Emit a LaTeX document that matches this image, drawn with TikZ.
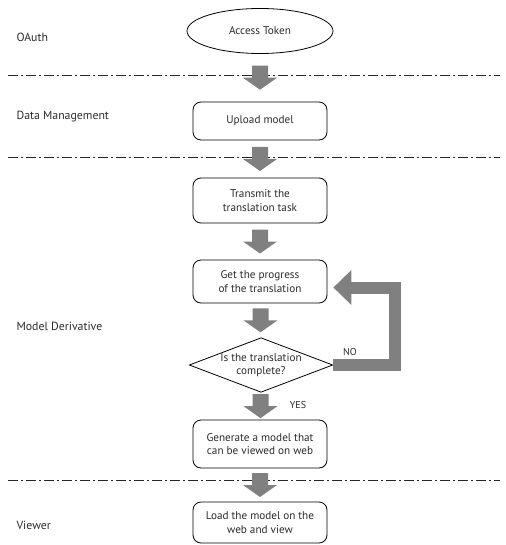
\documentclass[tikz,border=0pt]{standalone}
\usepackage{fontspec}
\setmainfont{PT Sans}
\usetikzlibrary{shapes.geometric,calc}

\definecolor{arrowgray}{HTML}{808080}
\definecolor{inkgray}{HTML}{2B2B2B}

% block arrow pointing down, centred between two nodes
\newcommand\flowarrow[2]{%
  \coordinate (fa-mid) at ($(#1.south)!0.5!(#2.north)$);
  \fill[arrowgray] ($(fa-mid)+(-8,-12)$) -- ($(fa-mid)+(-8,0)$) -- ($(fa-mid)+(-17,0)$)
    -- ($(fa-mid)+(0,12)$) -- ($(fa-mid)+(17,0)$) -- ($(fa-mid)+(8,0)$)
    -- ($(fa-mid)+(8,-12)$) -- cycle;}

\begin{document}
\begin{tikzpicture}[x=1pt,y=-1pt,
  every node/.style={text=inkgray},
  boxtext/.style={font=\fontsize{11.2}{13.5}\selectfont, align=center},
  box/.style={boxtext, draw=black, line width=0.8pt, rounded corners=8pt,
    minimum width=134pt, inner sep=0pt},
  lane/.style={font=\fontsize{11.8}{14}\selectfont, anchor=west},
  divider/.style={draw=black!85, line width=0.9pt,
    dash pattern=on 10pt off 3pt on 2pt off 3pt},
  small/.style={font=\fontsize{10}{12}\selectfont}]

\useasboundingbox (0,0) rectangle (505,545);

% lane dividers
\coordinate (d1l) at (8,75);  \coordinate (d1r) at (500,75);
\coordinate (d2l) at (8,157); \coordinate (d2r) at (500,157);
\coordinate (d3l) at (8,480); \coordinate (d3r) at (500,480);
\draw[divider] (d1l) -- (d1r);
\draw[divider] (d2l) -- (d2r);
\draw[divider] (d3l) -- (d3r);

% lane titles
\node[lane] (lOAuth) at (13,37) {OAuth};
\node[lane] (lData)  at (13,117) {Data Management};
\node[lane] (lModel) at (13,326) {Model Derivative};
\node[lane] (lView)  at (13,525) {Viewer};

% flow
\node[boxtext, draw=black, line width=0.8pt, ellipse, minimum width=146pt,
  minimum height=45pt, inner sep=0pt] (token) at (260,31) {Access Token};
\node[box, minimum height=38pt] (upload) at (260,121) {Upload model};
\node[box, minimum height=45pt] (transmit) at (260,200.5) {Transmit the\\translation task};
\node[box, minimum height=43pt] (prog) at (260,281.5) {Get the progress\\of the translation};
\node[boxtext, draw=black, line width=0.8pt, diamond, aspect=2.63, inner sep=0pt,
  minimum width=142pt, minimum height=54pt] (dec) at (261,365) {Is the translation\\complete?};
\node[box, minimum height=48pt] (gen) at (260,444) {Generate a model that\\can be viewed on web};
\node[box, minimum height=41pt] (load) at (260,522.5) {Load the model on the\\web and view};

\flowarrow{token}{upload}
\flowarrow{upload}{transmit}
\flowarrow{transmit}{prog}
\flowarrow{prog}{dec}
\flowarrow{dec}{gen}
\flowarrow{gen}{load}

% NO loop back to the progress step
\coordinate (loopR) at ($(dec.east)+(62,0)$);
\coordinate (headbase) at ($(prog.east)+(24,6)$);
\coordinate (headtip) at ($(prog.east)+(6,6)$);
\draw[arrowgray, line width=12pt, line join=miter] (dec.east) -- (loopR) |- (headbase);
\fill[arrowgray] ($(headbase)+(0,-17.5)$) -- (headtip) -- ($(headbase)+(0,17.5)$) -- cycle;

\node[small] (no) at (350,352) {NO};
\node[small] (yes) at (298,405) {YES};
\end{tikzpicture}
\end{document}
